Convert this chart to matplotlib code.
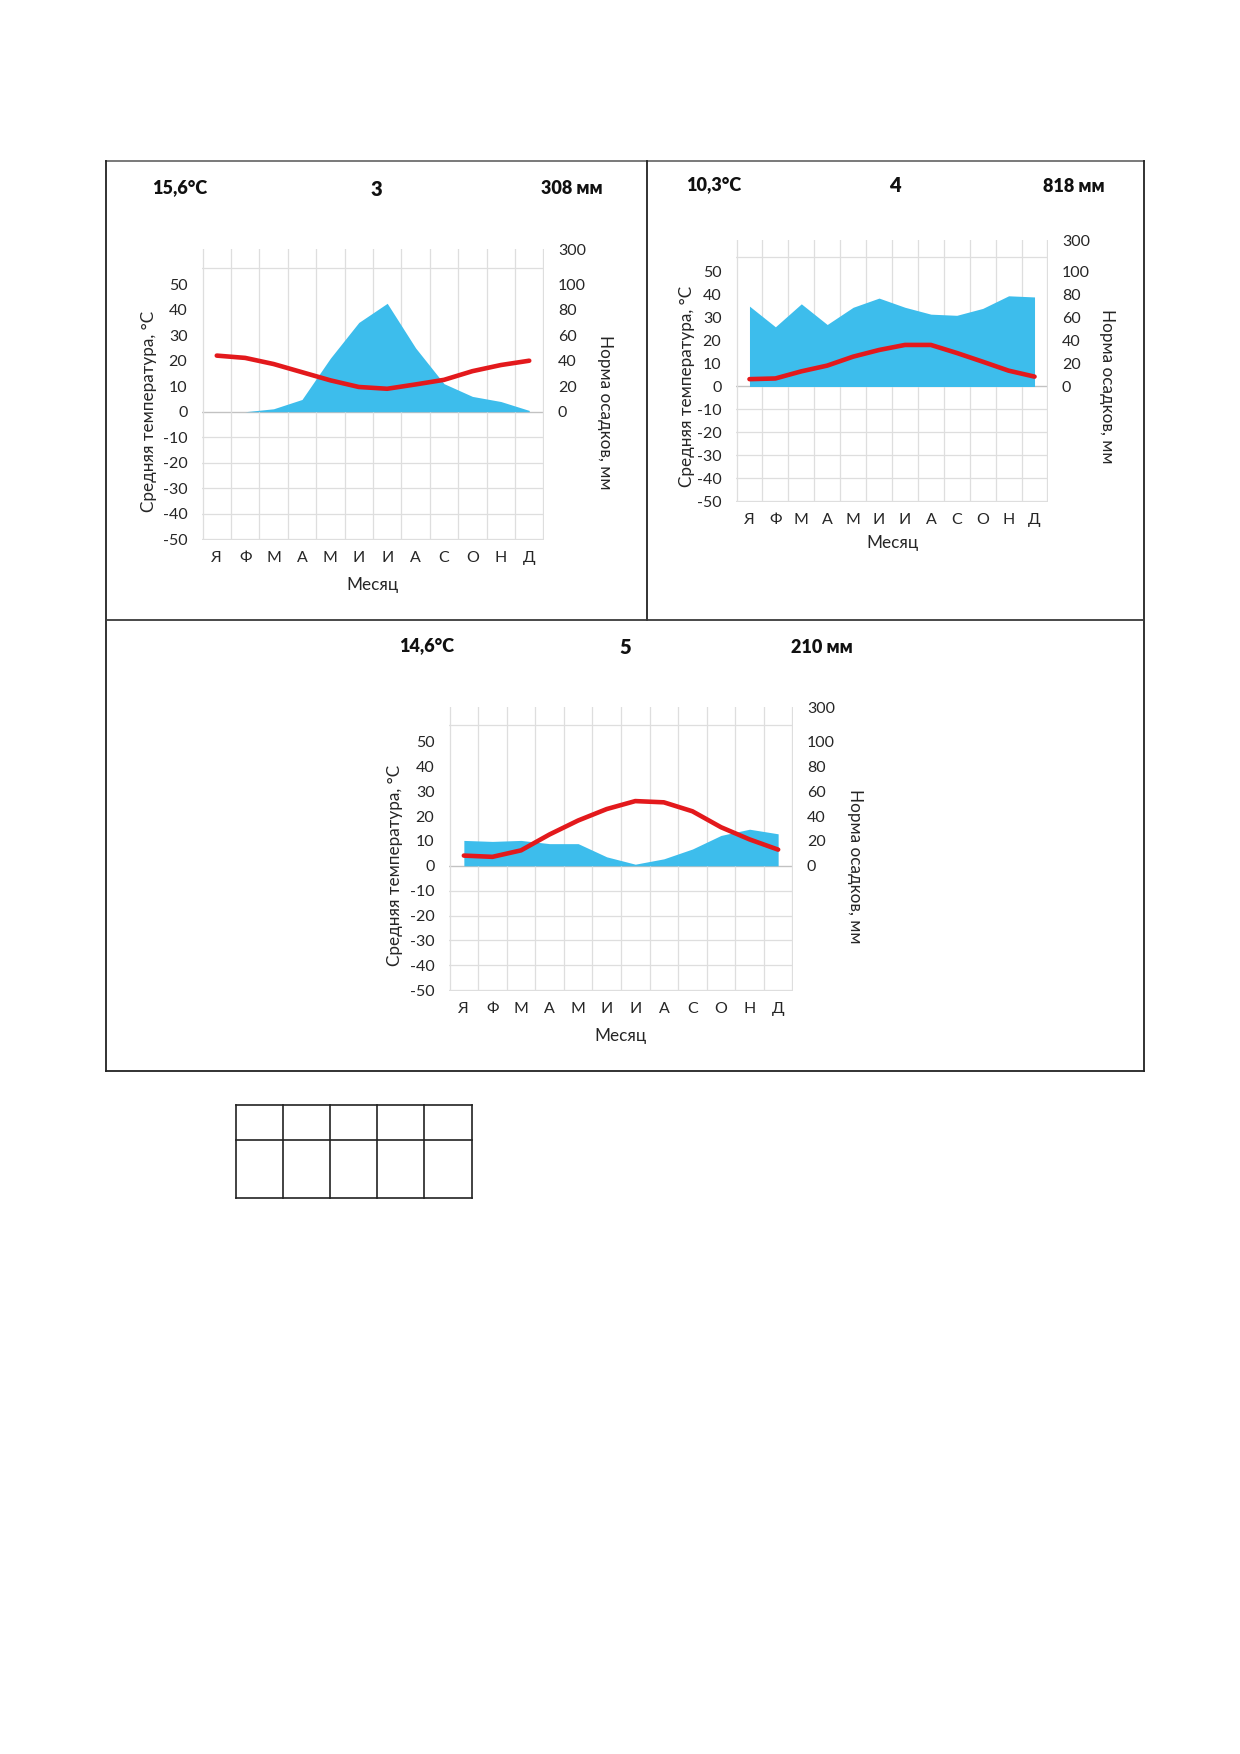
import numpy as np
import matplotlib
matplotlib.use("Agg")
from matplotlib import pyplot as plt
from matplotlib.lines import Line2D

plt.rcParams['font.family'] = ['Lato', 'DejaVu Sans']

W, H = 1240, 1754

months = ['Я', 'Ф', 'М', 'А', 'М', 'И', 'И', 'А', 'С', 'О', 'Н', 'Д']

# chart 3
temp_3 = [22.0, 21.1, 18.7, 15.5, 12.3, 9.7, 9.0, 10.7, 12.5, 15.9, 18.3, 20.0]
prec_3 = [0, 0, 2.3, 9.6, 42, 70, 85, 50, 22, 12, 8, 1]
# chart 4
temp_4 = [3.2, 3.5, 6.6, 9.1, 13.0, 15.9, 18.1, 18.1, 14.6, 10.8, 6.9, 4.3]
prec_4 = [70, 52, 72, 54, 69, 77, 69, 63, 62, 68, 79, 78]
# chart 5
temp_5 = [4.1, 3.6, 6.2, 12.6, 18.2, 22.8, 26.0, 25.5, 21.9, 15.5, 10.6, 6.5]
prec_5 = [20.4, 19.6, 20.4, 17.8, 17.8, 7.2, 1.3, 5.6, 13.5, 24.4, 29.4, 25.7]

temp_ticks = [-50, -40, -30, -20, -10, 0, 10, 20, 30, 40, 50]
prec_ticks = [0, 20, 40, 60, 80, 100]
prec_top_label = '300'

BLUE = '#3dbdec'
RED = '#e3191c'
GRID = '#dedede'
INK = '#262626'


def fx(px):
    return px / W


def fy(py):
    return 1 - py / H


def climate(fig, box, temp, prec, titles, title_pos, lab_x, month_lab_y):
    left, top, right, bottom = box
    ax = fig.add_axes([fx(left), fy(bottom), (right - left) / W, (bottom - top) / H])
    ax2 = ax.twinx()
    x = np.arange(len(months))

    t_lo, t_hi = -50, 63.5
    ax.set_ylim(t_lo - 0.3, t_hi + 0.3)
    ax2.set_ylim(2 * t_lo - 0.6, 2 * t_hi + 0.6)
    ax.set_xlim(-0.52, 11.52)

    # grid on the lower (precipitation) axes so the fill covers it
    ax2.xaxis.set_visible(True)
    ax2.patch.set_visible(True)
    ax2.set_yticks(list(np.arange(-100, 101, 20)) + [113, 2 * t_hi], minor=True)
    ax2.set_xticks(np.arange(-0.5, 12, 1), minor=True)
    ax2.grid(which='minor', color=GRID, lw=0.9)
    ax2.grid(which='major', visible=False)
    ax2.tick_params(axis='x', which='both', labelbottom=False, length=0)
    ax2.axhline(0, color='#c2c2c2', lw=1.0, zorder=1)
    ax2.fill_between(x, 0, prec, color=BLUE, lw=0, zorder=2)

    ax.plot(x, temp, color=RED, lw=3.3, solid_capstyle='round', zorder=3)

    ax.set_zorder(ax2.get_zorder() + 1)
    ax.patch.set_visible(False)
    for a in (ax, ax2):
        for s in a.spines.values():
            s.set_visible(False)

    ax.set_xticks(x)
    ax.set_xticklabels(months, fontsize=11.5)
    ax.set_yticks(temp_ticks)
    ax.set_yticklabels([str(v) for v in temp_ticks], fontsize=11.5)
    ax.tick_params(axis='both', which='both', length=0, colors=INK)
    ax.tick_params(axis='y', pad=10.5)
    ax.tick_params(axis='x', pad=8)

    ax2.set_yticks(prec_ticks + [2 * t_hi])
    ax2.set_yticklabels([str(v) for v in prec_ticks] + [prec_top_label], fontsize=11.5)
    ax2.tick_params(axis='y', which='both', length=0, colors=INK, pad=10)

    # axis titles, centred on the zero line as in the original
    zero_y = top + (t_hi - 0) / (t_hi - t_lo) * (bottom - top)
    fig.text(fx(lab_x[0]), fy(zero_y), 'Средняя температура, °С', rotation=90,
             ha='center', va='center', fontsize=12.3, color=INK)
    fig.text(fx(lab_x[1]), fy(zero_y), 'Норма осадков, мм', rotation=-90,
             ha='center', va='center', fontsize=12.3, color=INK)
    fig.text(fx((left + right) / 2), fy(month_lab_y), 'Месяц',
             ha='center', va='center', fontsize=12.3, color=INK)

    sizes = [13, 14.5, 13]
    for txt, (px, py), fs in zip(titles, title_pos, sizes):
        fig.text(fx(px), fy(py), txt, ha='center', va='center',
                 fontsize=fs, fontweight='heavy', color='#111111')
    return ax


fig = plt.figure(figsize=(W / 100, H / 100), dpi=100)

climate(fig, (202, 249, 544, 540), temp_3, prec_3,
        ['15,6°C', '3', '308 мм'], [(180, 188), (376, 189), (572, 189)],
        (149, 605), 585)
climate(fig, (736, 240, 1048, 502), temp_4, prec_4,
        ['10,3°C', '4', '818 мм'], [(714, 185), (895, 185), (1074, 186)],
        (687, 1107), 543)
climate(fig, (449, 707, 793, 991), temp_5, prec_5,
        ['14,6°C', '5', '210 мм'], [(427, 646), (625, 647), (822, 647)],
        (395, 855), 1036)


def line(x0, y0, x1, y1, color='#222222', lw=1.3):
    fig.add_artist(Line2D([fx(x0), fx(x1)], [fy(y0), fy(y1)], color=color, lw=lw))


# outer frame and dividers
line(106, 161, 1144, 161, color='#6e6e6e')
line(106, 161, 106, 1071)
line(1144, 161, 1144, 1071)
line(106, 1071, 1144, 1071)
line(647, 161, 647, 620)
line(106, 620, 1144, 620, color='#3a3a3a')

# empty answer table below
table_cols = [236, 283, 330, 377, 424, 472]
table_rows = [1105, 1140, 1198]
for cx in table_cols:
    line(cx, table_rows[0], cx, table_rows[-1], lw=1.2)
for ry in table_rows:
    line(table_cols[0], ry, table_cols[-1], ry, lw=1.2)

fig.savefig('out.png', dpi=100)
